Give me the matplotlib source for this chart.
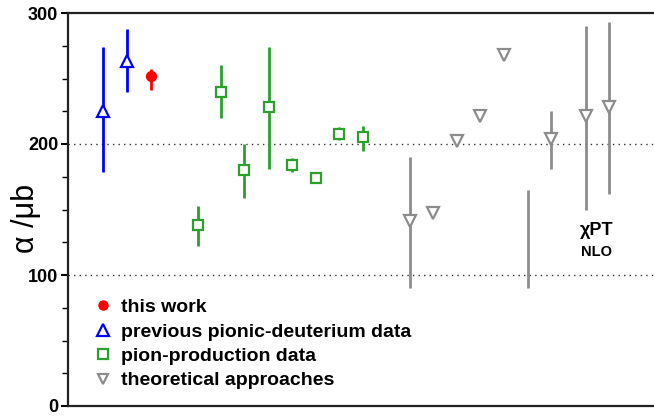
import numpy as np
import matplotlib
matplotlib.use("Agg")
import matplotlib.pyplot as plt
from matplotlib.lines import Line2D

# ---- data ----
# this work
work_x = [3.53]
work_val = [252]
work_lo = [241]
work_hi = [257]

# previous pionic-deuterium data
prev_x = [1.49, 2.51]
prev_val = [225, 263]
prev_lo = [179, 240]
prev_hi = [274, 288]

# pion-production data
prod_x = [5.52, 6.51, 7.50, 8.55, 9.53, 10.55, 11.53, 12.55]
prod_val = [138, 240, 180, 228, 184, 174, 208, 205]
prod_lo = [122, 220, 159, 181, 179, 171, 203, 195]
prod_hi = [153, 260, 200, 274, 189, 177, 213, 214]

# theoretical approaches (nan = range only, no central value)
theo_x = [14.55, 15.53, 16.55, 17.53, 18.55, 19.57, 20.55, 22.04, 23.02]
theo_val = [141, 147, 202, 221, 268, np.nan, 204, 221, 228]
theo_lo = [90, 147, 202, 221, 268, 90, 181, 150, 162]
theo_hi = [190, 147, 202, 221, 268, 165, 225, 290, 293]

legend_labels = ["this work", "previous pionic-deuterium data",
                 "pion-production data", "theoretical approaches"]

BLUE = "#0000ff"
RED = "#ff0000"
GREEN = "#2ca02c"
GRAY = "#8c8c8c"

plt.rcParams['font.family'] = ['Liberation Sans', 'DejaVu Sans']

fig = plt.figure(figsize=(6.54, 4.17), dpi=100)
ax = fig.add_axes([68/654, 1-406/417, 1-68/654, (406-13)/417])


def draw(xs, vals, lo, hi, color, marker, ms, filled=False):
    xs = np.asarray(xs, float)
    vals = np.asarray(vals, float)
    lo = np.asarray(lo, float)
    hi = np.asarray(hi, float)
    ax.vlines(xs, lo, hi, colors=color, lw=2, zorder=2)
    ax.plot(xs, vals, ls='none', marker=marker, ms=ms,
            mfc=color if filled else 'white', mec=color, mew=1.6, zorder=3)


draw(prev_x, prev_val, prev_lo, prev_hi, BLUE, '^', 9)
draw(work_x, work_val, work_lo, work_hi, RED, 'o', 6.5, filled=True)
draw(prod_x, prod_val, prod_lo, prod_hi, GREEN, 's', 7.5)
draw(theo_x, theo_val, theo_lo, theo_hi, GRAY, 'v', 8)

for yv in (100, 200):
    ax.axhline(yv, color='#333333', lw=1, ls=(0, (1, 3)), zorder=1)

ax.set_xlim(0, (654-68)/23.5)
ax.set_ylim(0, 300)
ax.set_yticks([0, 100, 200, 300])
ax.set_yticks(np.arange(0, 301, 25), minor=True)
ax.set_xticks([])
for lab in ax.get_yticklabels():
    lab.set_fontweight('bold')
ax.tick_params(axis='y', which='major', direction='out', length=5, width=1.5,
               labelsize=13, pad=2)
ax.tick_params(axis='y', which='minor', direction='out', length=4, width=1)
ax.spines['right'].set_visible(False)
for s in ('left', 'top', 'bottom'):
    ax.spines[s].set_linewidth(1.6)
    ax.spines[s].set_color('#222222')

ax.set_ylabel("α /μb", fontsize=22)
ax.yaxis.set_label_coords(-0.046, 0.478)

ax.text(22.5, (406-230)/1.31, "χPT", ha='center', va='center',
        fontsize=13, fontweight='bold')
ax.text(22.5, (406-252)/1.31, "NLO", ha='center', va='center',
        fontsize=10.5, fontweight='bold')

handles = [
    Line2D([], [], ls='none', marker='o', ms=6.5, mfc=RED, mec=RED),
    Line2D([], [], ls='none', marker='^', ms=8, mfc='white', mec=BLUE, mew=1.6),
    Line2D([], [], ls='none', marker='s', ms=7, mfc='white', mec=GREEN, mew=1.6),
    Line2D([], [], ls='none', marker='v', ms=7.5, mfc='white', mec=GRAY, mew=1.6),
]
leg = ax.legend(handles, legend_labels, loc='upper left',
                bbox_to_anchor=(0.018, 0.318), frameon=False,
                prop={'weight': 'bold', 'size': 14},
                handlelength=0.75, handletextpad=0.55, labelspacing=0.35,
                borderaxespad=0.0, borderpad=0.9)

fig.savefig("out.png", dpi=100)
